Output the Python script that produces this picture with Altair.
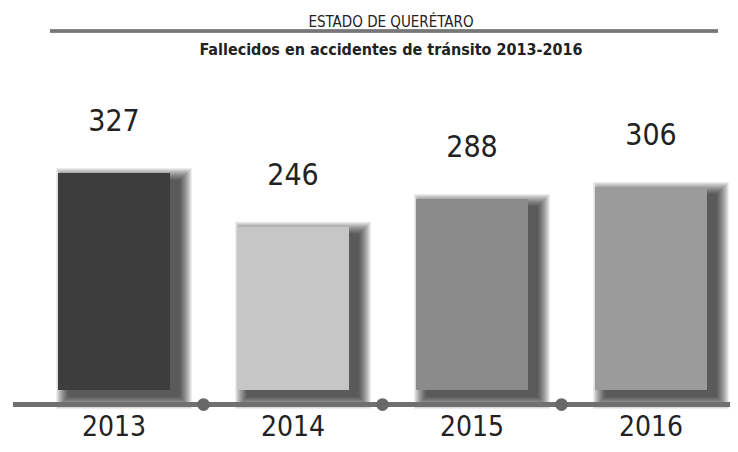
import altair as alt
import pandas as pd

years = ["2013", "2014", "2015", "2016"]
deaths = [327, 246, 288, 306]
bar_colors = ["#3d3d3d", "#c6c6c6", "#8b8b8b", "#9b9b9b"]
separators = [0.5, 1.5, 2.5]

FONT = "DejaVu Sans Condensed, Roboto, sans-serif"
HALF = 0.3128

df = pd.DataFrame({"year": years, "deaths": deaths, "color": bar_colors})
df["i"] = range(len(years))
df["x0"] = df["i"] - HALF
df["x1"] = df["i"] + HALF
df["zero"] = 0
sep_df = pd.DataFrame({"pos": separators, "lvl": [-22] * len(separators)})

xs = alt.Scale(domain=[-0.5922, 3.4413], nice=False, zero=False)
ys = alt.Scale(domain=[-81.4, 491.3], nice=False, zero=False)

base = alt.Chart(df)

layers = []
# blurred drop shadow approximation (many faint, progressively larger rects)
for s in range(12, -1, -1):
    layers.append(
        base.mark_rect(
            color="black", opacity=0.075,
            xOffset=10 - s, x2Offset=10 + s, yOffset=7 - s, y2Offset=7 + s,
        ).encode(
            x=alt.X("x0:Q", scale=xs, axis=None),
            x2="x1:Q",
            y=alt.Y("deaths:Q", scale=ys, axis=None),
            y2="zero:Q",
        )
    )

bars = base.mark_rect().encode(
    x=alt.X("x0:Q", scale=xs, axis=None),
    x2="x1:Q",
    y=alt.Y("deaths:Q", scale=ys, axis=None),
    y2="zero:Q",
    color=alt.Color("color:N", scale=None),
)

baseline = alt.Chart(sep_df).mark_rule(color="#707070", strokeWidth=5).encode(
    x=alt.value(5), x2=alt.value(730),
    y=alt.Y("mean(lvl):Q", scale=ys, axis=None),
)

dots = alt.Chart(sep_df).mark_point(filled=True, color="#686868", opacity=1, size=160).encode(
    x=alt.X("pos:Q", scale=xs, axis=None),
    y=alt.Y("lvl:Q", scale=ys, axis=None),
)

values = base.mark_text(font=FONT, fontSize=30, color="#222222", dy=-51, baseline="middle").encode(
    x=alt.X("i:Q", scale=xs, axis=None),
    y=alt.Y("deaths:Q", scale=ys, axis=None),
    text="deaths:Q",
)

year_labels = base.mark_text(font=FONT, fontSize=28, color="#222222", dy=38, baseline="middle").encode(
    x=alt.X("i:Q", scale=xs, axis=None),
    y=alt.Y("zero:Q", scale=ys, axis=None),
    text="year:N",
)

title_rule = alt.Chart(sep_df).mark_rule(color="#777777", strokeWidth=3).encode(
    x=alt.value(42), x2=alt.value(710), y=alt.value(-33)
)

chart = alt.layer(*layers, bars, baseline, dots, values, year_labels, title_rule).properties(
    width=722,
    height=380,
    padding={"top": 56, "left": 0, "right": 0, "bottom": 0},
    autosize=alt.AutoSizeParams(type="none"),
    title=alt.TitleParams(
        text="ESTADO DE QUERÉTARO",
        subtitle="Fallecidos en accidentes de tránsito 2013-2016",
        font=FONT, fontSize=15, fontWeight="normal", color="#222222",
        subtitleFont=FONT, subtitleFontSize=16, subtitleFontWeight="bold", subtitleColor="#222222",
        anchor="middle", dx=22, offset=-28, subtitlePadding=12,
    ),
).configure_view(stroke=None)

chart.save("out.html", embed_options={"renderer": "svg", "actions": False})
